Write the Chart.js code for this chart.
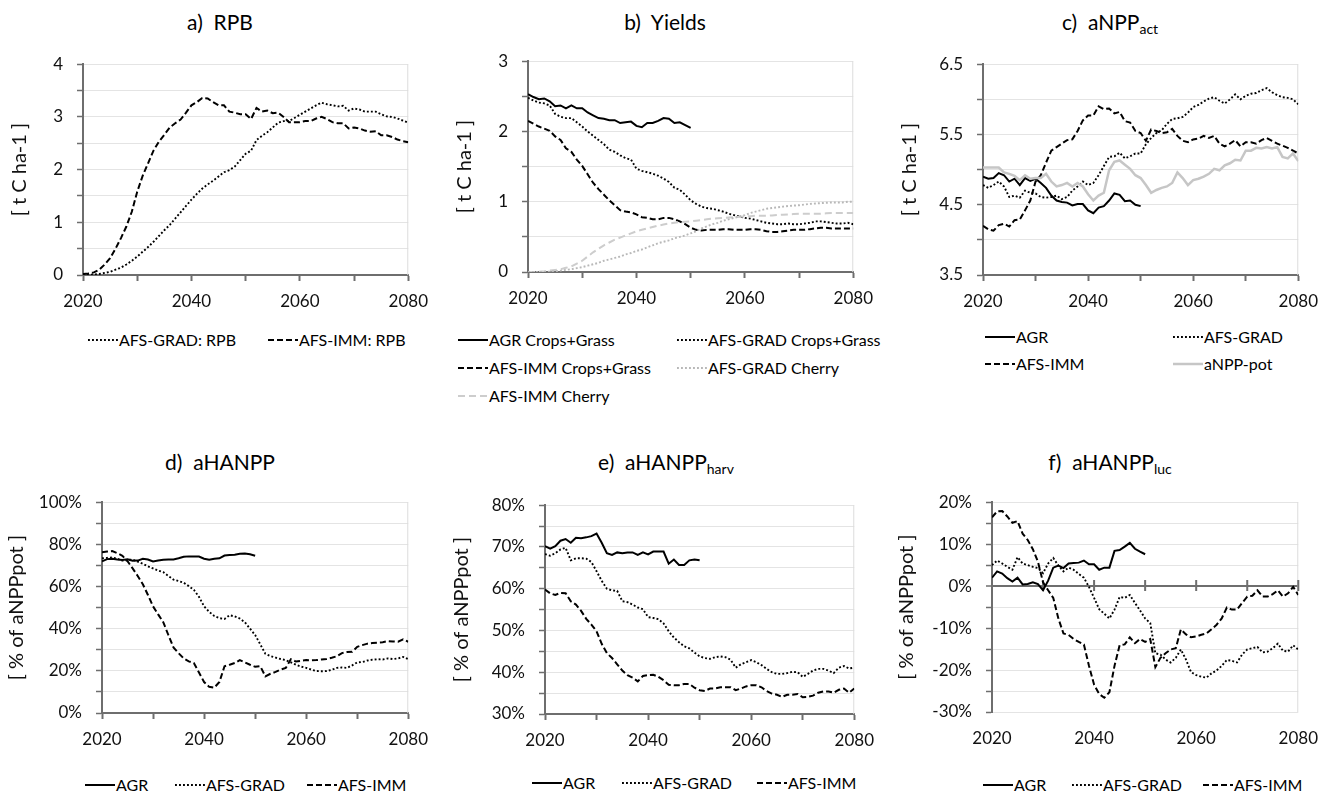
<!DOCTYPE html>
<html>
<head>
<meta charset="utf-8">
<script src="https://cdn.jsdelivr.net/npm/chart.js@4.4.1/dist/chart.umd.min.js"></script>
<style>
  body { margin: 0; background: #fff; width: 1338px; height: 793px; position: relative; overflow: hidden; font-family: Lato, sans-serif; color: #000; }
  canvas { position: absolute; }
  .ttl { position: absolute; width: 300px; text-align: center; font-size: 21px; line-height: 24px; white-space: pre; }
  .ttl sub { font-size: 14px; vertical-align: -4px; line-height: 0; }
  .lg { position: absolute; height: 20px; font-size: 16px; line-height: 20px; white-space: nowrap; display: flex; align-items: center; }
</style>
</head>
<body>
<script>
// years shared by every panel
const YEARS = [2020,2021,2022,2023,2024,2025,2026,2027,2028,2029,2030,2031,2032,2033,2034,2035,2036,2037,2038,2039,
  2040,2041,2042,2043,2044,2045,2046,2047,2048,2049,2050,2051,2052,2053,2054,2055,2056,2057,2058,2059,
  2060,2061,2062,2063,2064,2065,2066,2067,2068,2069,2070,2071,2072,2073,2074,2075,2076,2077,2078,2079,2080];
const X_TICKS = [2020, 2040, 2060, 2080];

// a) RPB  [t C/ha]
const rpbGrad = [0,0,0.01,0.02,0.04,0.06,0.1,0.14,0.2,0.27, 0.35,0.44,0.53,0.63,0.74,0.85,0.95,1.07,1.19,1.31,
  1.43,1.54,1.64,1.72,1.79,1.87,1.95,1.99,2.06,2.18, 2.3,2.36,2.56,2.64,2.71,2.8,2.89,2.92,2.92,2.98,
  3.04,3.1,3.16,3.22,3.27,3.24,3.22,3.2,3.21,3.12, 3.16,3.14,3.1,3.1,3.1,3.05,3.01,3.0,2.97,2.93, 2.89];
const rpbImm = [0.02,0.03,0.05,0.1,0.2,0.32,0.5,0.7,0.92,1.2, 1.58,1.88,2.12,2.36,2.53,2.66,2.8,2.88,2.95,3.08,
  3.22,3.28,3.36,3.35,3.28,3.22,3.22,3.1,3.08,3.05, 3.05,2.96,3.17,3.1,3.12,3.07,3.08,3.0,2.9,2.9,
  2.9,2.92,2.92,2.97,3.0,2.96,2.9,2.88,2.88,2.78, 2.8,2.78,2.74,2.72,2.73,2.65,2.65,2.62,2.57,2.54, 2.52];

// b) Yields  [t C/ha]
const yldAgr = [2.53,2.49,2.46,2.47,2.43,2.36,2.37,2.33,2.37,2.33, 2.33,2.27,2.23,2.19,2.18,2.16,2.16,2.12,2.13,2.14,
  2.08,2.06,2.12,2.12,2.15,2.19,2.18,2.12,2.13,2.09, 2.05];
const yldGrad = [2.48,2.44,2.41,2.4,2.37,2.25,2.21,2.19,2.19,2.13, 2.07,2.0,1.94,1.88,1.82,1.74,1.71,1.66,1.62,1.6,
  1.47,1.44,1.42,1.4,1.37,1.33,1.28,1.2,1.17,1.1, 1.02,0.97,0.93,0.91,0.9,0.88,0.86,0.83,0.81,0.79,
  0.77,0.76,0.74,0.72,0.7,0.69,0.68,0.68,0.69,0.68, 0.68,0.69,0.7,0.72,0.72,0.71,0.7,0.69,0.69,0.7, 0.68];
const yldImm = [2.15,2.11,2.07,2.04,2.01,1.93,1.88,1.76,1.71,1.6, 1.51,1.39,1.27,1.18,1.1,1.02,0.95,0.88,0.86,0.85,
  0.82,0.78,0.77,0.75,0.75,0.77,0.77,0.75,0.72,0.68, 0.63,0.6,0.59,0.6,0.6,0.6,0.61,0.61,0.6,0.6,
  0.6,0.61,0.61,0.6,0.58,0.57,0.57,0.58,0.59,0.6, 0.6,0.6,0.61,0.62,0.63,0.63,0.62,0.62,0.62,0.62, 0.62];
const cherryGrad = [0,0,0,0,0.005,0.01,0.02,0.03,0.04,0.055, 0.07,0.09,0.11,0.13,0.16,0.18,0.2,0.22,0.25,0.27,
  0.3,0.32,0.35,0.38,0.41,0.43,0.45,0.48,0.5,0.52, 0.55,0.58,0.62,0.65,0.68,0.7,0.73,0.75,0.77,0.79,
  0.81,0.84,0.86,0.88,0.9,0.91,0.92,0.93,0.94,0.945, 0.95,0.96,0.97,0.975,0.98,0.985,0.99,0.99,0.99,1.0, 1.0];
const cherryImm = [0,0,0.005,0.01,0.02,0.03,0.04,0.06,0.08,0.12, 0.16,0.22,0.28,0.33,0.38,0.42,0.46,0.49,0.52,0.55,
  0.58,0.6,0.62,0.64,0.66,0.675,0.69,0.7,0.71,0.715, 0.72,0.73,0.74,0.75,0.76,0.765,0.77,0.775,0.78,0.785,
  0.79,0.795,0.8,0.8,0.8,0.805,0.81,0.815,0.82,0.825, 0.83,0.83,0.83,0.83,0.83,0.835,0.84,0.84,0.84,0.84, 0.84];

// c) aNPP act  [t C/ha]
const nppAgr = [4.9,4.87,4.88,4.95,4.92,4.83,4.87,4.78,4.88,4.84, 4.87,4.81,4.74,4.63,4.56,4.54,4.53,4.49,4.51,4.51,
  4.42,4.38,4.46,4.48,4.56,4.66,4.64,4.55,4.56,4.5, 4.48];
const nppGrad = [4.78,4.74,4.78,4.83,4.76,4.61,4.63,4.6,4.7,4.67, 4.66,4.61,4.6,4.61,4.63,4.58,4.61,4.7,4.76,4.83,
  4.78,4.81,4.92,5.05,5.18,5.19,5.24,5.16,5.19,5.23, 5.23,5.36,5.45,5.52,5.56,5.65,5.72,5.73,5.75,5.81,
  5.89,5.92,5.97,6.01,6.03,5.98,5.94,6.0,6.07,6.0, 6.05,6.08,6.09,6.13,6.16,6.1,6.06,6.03,6.02,6.0, 5.93];
const nppImm = [4.2,4.15,4.13,4.21,4.23,4.19,4.28,4.29,4.42,4.56, 4.83,4.92,5.1,5.27,5.32,5.37,5.42,5.43,5.55,5.7,
  5.77,5.77,5.9,5.86,5.87,5.8,5.82,5.69,5.67,5.55, 5.52,5.41,5.57,5.55,5.52,5.53,5.58,5.48,5.41,5.39,
  5.43,5.44,5.48,5.45,5.48,5.37,5.33,5.37,5.42,5.33, 5.39,5.39,5.37,5.42,5.45,5.41,5.37,5.34,5.31,5.27, 5.23];
const nppPot = [5.03,5.03,5.03,5.03,4.96,4.94,4.91,4.85,4.92,4.87, 4.88,4.88,4.94,4.83,4.76,4.78,4.81,4.76,4.81,4.76,
  4.65,4.56,4.63,4.67,4.99,5.11,5.13,5.07,5.01,4.92, 4.88,4.78,4.67,4.71,4.74,4.76,4.81,4.96,4.88,4.78,
  4.85,4.87,4.9,4.94,5.01,4.99,5.06,5.09,5.14,5.13, 5.27,5.27,5.31,5.3,5.32,5.3,5.32,5.18,5.16,5.23, 5.12];

// d) aHANPP  [% of aNPPpot]
const hanppAgr = [72,73,73.2,72.8,72.6,72.9,72.2,72.3,73.2,72.8, 71.9,72.3,72.7,72.8,72.8,73.4,74.1,74.3,74.3,74.2,
  73.2,72.7,73.2,73.4,74.7,75.0,75.1,75.5,75.7,75.3, 74.6];
const hanppGrad = [73.4,73.6,73.8,73.2,72.3,72.6,72.8,71.8,70.8,69.6, 68.6,67.6,66.8,65.0,63.3,62.6,61.8,60.2,58.4,55.1,
  50.6,48.0,46.0,45.0,44.6,46.4,45.8,44.8,43.0,40.0, 37.0,32.6,28.1,27.0,26.3,25.6,25.1,24.0,22.9,22.0,
  21.4,20.6,19.9,19.8,19.9,20.5,21.4,21.6,21.4,22.6, 24.0,24.2,24.9,25.3,25.5,25.4,25.9,25.6,25.9,26.6, 25.5];
const hanppImm = [76.3,76.6,76.8,75.8,74.6,72.0,68.6,65.0,61.1,56.0, 50.6,46.8,43.1,37.0,31.1,28.4,25.9,24.5,23.7,19.2,
  14.7,12.4,12.0,14.7,22.2,22.9,23.7,25.1,24.0,22.9, 21.9,22.2,17.4,18.6,19.5,20.6,21.4,25.5,24.4,24.8,
  25.1,25.0,25.1,25.4,25.6,26.2,26.9,28.4,28.9,29.0, 31.4,32.2,32.9,33.2,33.4,33.6,34.1,33.9,33.8,34.9, 33.8];

// e) aHANPP harv  [% of aNPPpot]
const harvAgr = [70.2,69.6,70.2,71.5,71.9,71.0,72.2,72.1,72.3,72.6, 73.2,71.0,68.5,68.1,68.7,68.5,68.7,68.7,68.1,68.7,
  68.2,68.9,68.9,68.9,66.0,67.0,65.7,65.7,66.8,67.0, 66.8];
const harvGrad = [68.3,67.9,68.5,69.4,69.8,66.8,67.3,67.3,67.2,66.4, 64.2,61.9,60.0,59.6,59.5,57.0,56.8,56.2,55.5,55.1,
  53.2,53.0,52.7,51.7,49.8,48.3,47.2,46.2,45.7,44.7, 43.8,43.4,43.2,43.6,43.8,43.6,43.0,41.1,41.9,42.4,
  42.9,42.4,41.7,40.8,40.0,39.6,39.6,39.8,40.1,40.0, 38.9,39.6,40.4,40.8,40.8,40.4,39.8,41.1,41.5,40.9, 41.1];
const harvImm = [59.8,58.9,58.5,59.0,58.9,57.0,56.2,54.7,52.8,51.4, 49.8,46.8,44.6,43.4,41.9,40.4,39.3,38.7,37.8,39.1,
  39.3,39.4,38.9,38.1,37.0,36.9,36.9,37.2,37.2,36.3, 35.7,35.5,36.1,36.1,36.4,36.4,36.4,35.7,36.1,36.6,
  36.9,36.9,36.4,35.5,34.9,34.6,34.1,34.6,34.6,34.8, 34.0,34.1,34.4,35.1,35.4,35.4,35.1,35.8,36.1,35.1, 36.1];

// f) aHANPP luc  [% of aNPPpot]
const lucAgr = [2,3.5,3,1.9,1.1,2,0.4,0.5,0.9,0.5, -1,1.3,4.4,4.9,4.3,5.4,5.5,5.6,6.1,5.2,
  5.2,3.9,4.4,4.4,8.4,8.6,9.4,10.3,8.9,8.2, 7.6];
const lucGrad = [5,6.1,5.4,4.6,3.9,6.9,5.4,5,4.6,4.3, 3.1,5.4,6.7,4.9,3.5,4.4,3.9,2.9,2,-0.2,
  -2.8,-5.5,-6.6,-7.7,-5.6,-2.6,-2.8,-2.1,-4,-5.8, -7.7,-8.8,-16,-16.3,-17.5,-18.2,-17.1,-15.1,-17.5,-20.5,
  -21.2,-21.6,-21.8,-20.8,-20.1,-19,-17.6,-17.8,-18.2,-16.3, -15.1,-14.8,-14.5,-15.8,-15.6,-14.8,-13.7,-15.4,-15.6,-14.1, -15.1];
const lucImm = [16.4,17.8,17.9,16.6,15.1,15.5,12.5,11,8.8,5.8, 0.9,-1,-2.8,-7.7,-11.3,-11.6,-12.6,-13.3,-13.9,-19,
  -23.5,-25.7,-26.6,-25.3,-19,-14.1,-13.9,-12.2,-13.6,-12.6, -13.3,-12.6,-19.3,-17.1,-16,-15.1,-14.8,-10.3,-11.5,-12.2,
  -12,-11.6,-11.3,-10.3,-9.2,-7.7,-5.1,-5.6,-5.6,-4, -2.5,-2.3,-1,-2.5,-2.5,-1.9,-1,-2.5,-1.7,-0.2, -2.1];

const AXIS = '#6e6e6e';
const GRID = '#e4e4e4';
const STYLES = {
  solid:  { borderColor: '#000', borderWidth: 2, borderDash: [] },
  dot:    { borderColor: '#000', borderWidth: 1.9, borderDash: [1.9, 2.1] },
  dash:   { borderColor: '#000', borderWidth: 2, borderDash: [6, 3] },
  gdot:   { borderColor: '#b8b8b8', borderWidth: 1.9, borderDash: [1.9, 2.1] },
  gdash:  { borderColor: '#cdcdcd', borderWidth: 2, borderDash: [7, 4] },
  gsolid: { borderColor: '#c6c6c6', borderWidth: 2.5, borderDash: [] }
};

Chart.defaults.font.family = 'Lato, sans-serif';
Chart.defaults.color = '#111';

function pts(vals) {
  return vals.map((v, i) => ({ x: YEARS[i], y: v }));
}

// light right edge of the plot area
const frame = {
  id: 'frame',
  beforeDatasetsDraw(ch) {
    const a = ch.chartArea, ctx = ch.ctx;
    ctx.save();
    ctx.strokeStyle = '#dcdcdc';
    ctx.lineWidth = 1;
    ctx.beginPath();
    ctx.moveTo(a.right - 0.5, a.top);
    ctx.lineTo(a.right - 0.5, a.bottom);
    ctx.stroke();
    ctx.restore();
  }
};

// tick marks crossing the zero line (panel f)
const zeroTicks = {
  id: 'zeroTicks',
  beforeDatasetsDraw(ch) {
    const ctx = ch.ctx, xs = ch.scales.x, y0 = ch.scales.y.getPixelForValue(0);
    ctx.save();
    ctx.strokeStyle = AXIS;
    ctx.lineWidth = 2;
    ctx.beginPath();
    xs.ticks.forEach(t => {
      const px = xs.getPixelForValue(t.value);
      ctx.moveTo(px, y0 - 6);
      ctx.lineTo(px, y0 + 5);
    });
    ctx.stroke();
    ctx.restore();
  }
};

function makeChart(cfg) {
  const cv = document.createElement('canvas');
  cv.width = cfg.w;
  cv.height = cfg.h;
  cv.style.left = cfg.left + 'px';
  cv.style.top = cfg.top + 'px';
  document.body.appendChild(cv);

  const labelOk = v => {
    const r = (v - cfg.min) / cfg.labelStep;
    return Math.abs(r - Math.round(r)) < 1e-6;
  };

  new Chart(cv, {
    type: 'line',
    data: {
      datasets: cfg.series.map(s => Object.assign({
        data: pts(s[0]), pointRadius: 0, fill: false, tension: 0, borderCapStyle: 'butt'
      }, STYLES[s[1]]))
    },
    options: {
      responsive: false,
      animation: false,
      events: [],
      layout: { padding: { top: 12, right: 25, left: 0, bottom: 0 } },
      plugins: { legend: { display: false }, tooltip: { enabled: false } },
      scales: {
        x: {
          type: 'linear', min: 2020, max: 2080,
          afterFit: s => { s.height = 40; },
          ticks: {
            stepSize: 10, autoSkip: false, maxRotation: 0, padding: 10, color: '#111', font: { size: 17 },
            callback: v => X_TICKS.includes(v) ? String(v) : ''
          },
          grid: { drawOnChartArea: false, tickLength: 6, tickWidth: 2, tickColor: cfg.zero ? 'rgba(0,0,0,0)' : AXIS },
          border: { display: !cfg.zero, color: AXIS, width: 2 }
        },
        y: {
          min: cfg.min, max: cfg.max,
          afterFit: s => { s.width = cfg.yw; },
          ticks: {
            stepSize: cfg.step, autoSkip: false, padding: 14, color: '#111', font: { size: 17 },
            callback: v => labelOk(v) ? cfg.fmt(v) : ''
          },
          grid: {
            color: c => (cfg.zero && c.tick && Math.abs(c.tick.value) < 1e-9) ? AXIS : GRID,
            lineWidth: c => (cfg.zero && c.tick && Math.abs(c.tick.value) < 1e-9) ? 2 : 1,
            tickLength: 6, tickWidth: 1.5, tickColor: AXIS
          },
          border: { color: AXIS, width: 2 },
          title: { display: true, text: cfg.ytitle, color: '#111', font: { size: 20 }, padding: { top: 4, bottom: 4 } }
        }
      }
    },
    plugins: cfg.zero ? [frame, zeroTicks] : [frame]
  });
}

const num = v => String(v);
const dec = v => v.toFixed(1);
const pct = v => Math.round(v) + '%';
const TC = '[ t C ha-1 ]';
const PC = '[ % of aNPPpot ]';

makeChart({ left: 4, top: 40, w: 434, h: 275, yw: 79, min: 0, max: 4, step: 0.5, labelStep: 1, fmt: num, ytitle: TC,
  series: [[rpbGrad, 'dot'], [rpbImm, 'dash']] });
makeChart({ left: 449, top: 37, w: 434, h: 275, yw: 79, min: 0, max: 3, step: 0.5, labelStep: 1, fmt: num, ytitle: TC,
  series: [[cherryGrad, 'gdot'], [cherryImm, 'gdash'], [yldGrad, 'dot'], [yldImm, 'dash'], [yldAgr, 'solid']] });
makeChart({ left: 894, top: 40, w: 434, h: 275, yw: 89, min: 3.5, max: 6.5, step: 0.5, labelStep: 1, fmt: dec, ytitle: TC,
  series: [[nppPot, 'gsolid'], [nppGrad, 'dot'], [nppImm, 'dash'], [nppAgr, 'solid']] });
makeChart({ left: 1, top: 478, w: 437, h: 275, yw: 101, min: 0, max: 100, step: 10, labelStep: 20, fmt: pct, ytitle: PC,
  series: [[hanppGrad, 'dot'], [hanppImm, 'dash'], [hanppAgr, 'solid']] });
makeChart({ left: 446, top: 481, w: 438, h: 273, yw: 99, min: 30, max: 80, step: 5, labelStep: 10, fmt: pct, ytitle: PC,
  series: [[harvGrad, 'dot'], [harvImm, 'dash'], [harvAgr, 'solid']] });
makeChart({ left: 891, top: 478, w: 437, h: 274, yw: 101, min: -30, max: 20, step: 5, labelStep: 10, fmt: pct, ytitle: PC, zero: true,
  series: [[lucGrad, 'dot'], [lucImm, 'dash'], [lucAgr, 'solid']] });

// titles
const titles = [
  [220, 10, 'a)  RPB'],
  [665, 10, 'b)  Yields'],
  [1110, 10, 'c)  aNPP<sub>act</sub>'],
  [220, 450, 'd)  aHANPP'],
  [666, 450, 'e)  aHANPP<sub>harv</sub>'],
  [1110, 450, 'f)  aHANPP<sub>luc</sub>']
];
titles.forEach(t => {
  const d = document.createElement('div');
  d.className = 'ttl';
  d.style.left = (t[0] - 150) + 'px';
  d.style.top = t[1] + 'px';
  d.innerHTML = t[2];
  document.body.appendChild(d);
});

// legends: [x, centre y, style, label]
const legends = [
  [88, 340, 'dot', 'AFS-GRAD: RPB'], [268, 340, 'dash', 'AFS-IMM: RPB'],
  [458, 340, 'solid', 'AGR Crops+Grass'], [677, 340, 'dot', 'AFS-GRAD Crops+Grass'],
  [458, 368, 'dash', 'AFS-IMM Crops+Grass'], [677, 368, 'gdot', 'AFS-GRAD Cherry'],
  [458, 396, 'gdash', 'AFS-IMM Cherry'],
  [985, 337, 'solid', 'AGR'], [1173, 337, 'dot', 'AFS-GRAD'],
  [985, 364, 'dash', 'AFS-IMM'], [1173, 364, 'gsolid', 'aNPP-pot'],
  [85, 785, 'solid', 'AGR'], [175, 785, 'dot', 'AFS-GRAD'], [307, 785, 'dash', 'AFS-IMM'],
  [532, 783, 'solid', 'AGR'], [622, 783, 'dot', 'AFS-GRAD'], [757, 783, 'dash', 'AFS-IMM'],
  [983, 785, 'solid', 'AGR'], [1072, 785, 'dot', 'AFS-GRAD'], [1203, 785, 'dash', 'AFS-IMM']
];
legends.forEach(l => {
  const st = STYLES[l[2]];
  const d = document.createElement('div');
  d.className = 'lg';
  d.style.left = l[0] + 'px';
  d.style.top = (l[1] - 10) + 'px';
  const dash = st.borderDash.length ? st.borderDash.join(' ') : 'none';
  d.innerHTML = '<svg width="30" height="6" style="margin-right:1px"><line x1="0" y1="3" x2="30" y2="3" stroke="' +
    st.borderColor + '" stroke-width="' + st.borderWidth + '" stroke-dasharray="' + dash + '"/></svg><span>' + l[3] + '</span>';
  document.body.appendChild(d);
});
</script>
</body>
</html>
